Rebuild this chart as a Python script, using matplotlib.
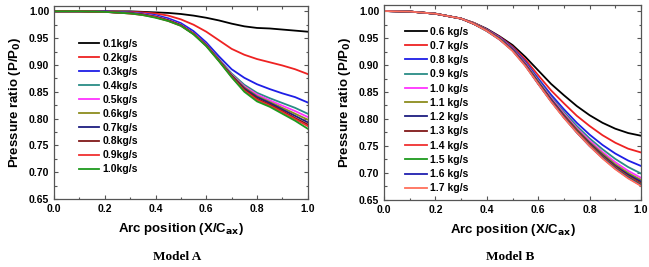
import numpy as np
import matplotlib
matplotlib.use("Agg")
import matplotlib.pyplot as plt
from matplotlib.ticker import MultipleLocator

# arc positions where values were read
x_pos = [0.0, 0.1, 0.2, 0.3, 0.35, 0.4, 0.45, 0.5, 0.55, 0.6, 0.65, 0.7, 0.75, 0.8, 0.85, 0.9, 0.95, 1.0]

### Model A
labels_a = ["0.1kg/s", "0.2kg/s", "0.3kg/s", "0.4kg/s", "0.5kg/s",
            "0.6kg/s", "0.7kg/s", "0.8kg/s", "0.9kg/s", "1.0kg/s"]
colors_a = ["#000000", "#ee2222", "#1e1ee6", "#2a8c86", "#ff33ff",
            "#8c8c1e", "#1e1e80", "#801818", "#f03030", "#1e9a1e"]
p_a = [
    [1.0, 1.0, 1.0, 1.0, 0.999, 0.998, 0.997, 0.995, 0.992, 0.988, 0.983, 0.977, 0.972, 0.969, 0.968, 0.966, 0.964, 0.962],
    [1.0, 1.0, 1.0, 0.999, 0.998, 0.996, 0.992, 0.985, 0.975, 0.962, 0.946, 0.930, 0.919, 0.911, 0.905, 0.899, 0.892, 0.883],
    [1.0, 1.0, 1.0, 0.998, 0.996, 0.993, 0.987, 0.978, 0.963, 0.942, 0.916, 0.892, 0.876, 0.864, 0.855, 0.847, 0.840, 0.830],
    [1.0, 1.0, 0.999, 0.997, 0.995, 0.991, 0.984, 0.975, 0.959, 0.938, 0.911, 0.884, 0.863, 0.848, 0.838, 0.829, 0.820, 0.809],
    [1.0, 1.0, 0.999, 0.997, 0.995, 0.991, 0.984, 0.975, 0.959, 0.938, 0.910, 0.882, 0.860, 0.845, 0.834, 0.824, 0.814, 0.803],
    [1.0, 1.0, 0.999, 0.997, 0.994, 0.990, 0.983, 0.974, 0.958, 0.937, 0.909, 0.881, 0.858, 0.842, 0.831, 0.820, 0.809, 0.798],
    [1.0, 1.0, 0.999, 0.997, 0.994, 0.990, 0.983, 0.974, 0.958, 0.937, 0.909, 0.880, 0.856, 0.840, 0.829, 0.817, 0.805, 0.793],
    [1.0, 1.0, 0.999, 0.996, 0.994, 0.989, 0.983, 0.974, 0.958, 0.936, 0.908, 0.879, 0.854, 0.837, 0.826, 0.814, 0.801, 0.789],
    [1.0, 1.0, 0.999, 0.996, 0.993, 0.989, 0.982, 0.973, 0.958, 0.936, 0.908, 0.878, 0.852, 0.835, 0.824, 0.812, 0.799, 0.786],
    [1.0, 1.0, 0.999, 0.996, 0.993, 0.988, 0.982, 0.973, 0.957, 0.935, 0.907, 0.877, 0.850, 0.832, 0.822, 0.809, 0.796, 0.781],
]

### Model B
labels_b = ["0.6 kg/s", "0.7 kg/s", "0.8 kg/s", "0.9 kg/s", "1.0 kg/s", "1.1 kg/s",
            "1.2 kg/s", "1.3 kg/s", "1.4 kg/s", "1.5 kg/s", "1.6 kg/s", "1.7 kg/s"]
colors_b = ["#000000", "#ee2222", "#1e1ee6", "#2a8c86", "#ff33ff", "#8c8c1e",
            "#1e1e80", "#801818", "#f03030", "#1e9a1e", "#2020b0", "#ff6f5a"]
p_b = [
    [1.0, 0.999, 0.995, 0.986, 0.978, 0.967, 0.953, 0.937, 0.915, 0.890, 0.865, 0.844, 0.824, 0.807, 0.793, 0.782, 0.774, 0.769],
    [1.0, 0.999, 0.995, 0.986, 0.978, 0.966, 0.952, 0.934, 0.910, 0.881, 0.853, 0.829, 0.806, 0.787, 0.770, 0.756, 0.745, 0.738],
    [1.0, 0.999, 0.995, 0.986, 0.977, 0.966, 0.951, 0.932, 0.906, 0.875, 0.845, 0.818, 0.793, 0.771, 0.752, 0.736, 0.723, 0.713],
    [1.0, 0.999, 0.995, 0.986, 0.977, 0.965, 0.950, 0.931, 0.904, 0.872, 0.841, 0.813, 0.787, 0.764, 0.744, 0.726, 0.711, 0.699],
    [1.0, 0.999, 0.995, 0.986, 0.977, 0.965, 0.950, 0.930, 0.903, 0.870, 0.839, 0.810, 0.783, 0.760, 0.739, 0.720, 0.704, 0.691],
    [1.0, 0.999, 0.995, 0.986, 0.977, 0.965, 0.949, 0.929, 0.902, 0.869, 0.837, 0.808, 0.781, 0.757, 0.736, 0.716, 0.700, 0.687],
    [1.0, 0.999, 0.995, 0.986, 0.976, 0.964, 0.949, 0.929, 0.901, 0.868, 0.836, 0.806, 0.779, 0.755, 0.733, 0.713, 0.697, 0.684],
    [1.0, 0.999, 0.995, 0.986, 0.976, 0.964, 0.948, 0.928, 0.900, 0.867, 0.835, 0.805, 0.778, 0.753, 0.731, 0.711, 0.694, 0.681],
    [1.0, 0.999, 0.995, 0.986, 0.976, 0.964, 0.948, 0.928, 0.900, 0.866, 0.834, 0.804, 0.777, 0.752, 0.730, 0.710, 0.693, 0.679],
    [1.0, 0.999, 0.995, 0.986, 0.976, 0.963, 0.948, 0.927, 0.899, 0.866, 0.833, 0.803, 0.776, 0.751, 0.729, 0.709, 0.692, 0.678],
    [1.0, 0.999, 0.995, 0.986, 0.976, 0.963, 0.947, 0.927, 0.899, 0.865, 0.833, 0.803, 0.775, 0.750, 0.728, 0.708, 0.691, 0.677],
    [1.0, 0.999, 0.995, 0.986, 0.976, 0.963, 0.947, 0.926, 0.898, 0.865, 0.832, 0.802, 0.775, 0.750, 0.727, 0.707, 0.690, 0.676],
]

plt.rcParams['font.family'] = ['Liberation Sans', 'DejaVu Sans']
plt.rcParams['font.weight'] = 'bold'
plt.rcParams['mathtext.default'] = 'bf'

fig = plt.figure(figsize=(6.49, 2.67), dpi=100)
ax_a = fig.add_axes([0.0832, 0.2547, 0.391, 0.723])
ax_b = fig.add_axes([0.5917, 0.251, 0.396, 0.730])


def style_axes(ax, ytop):
    ax.set_xlim(0, 1.0)
    ax.set_ylim(0.65, ytop)
    ax.xaxis.set_major_locator(MultipleLocator(0.2))
    ax.xaxis.set_minor_locator(MultipleLocator(0.1))
    ax.yaxis.set_major_locator(MultipleLocator(0.05))
    ax.yaxis.set_minor_locator(MultipleLocator(0.025))
    ax.xaxis.set_major_formatter(matplotlib.ticker.FormatStrFormatter('%.1f'))
    ax.yaxis.set_major_formatter(matplotlib.ticker.FormatStrFormatter('%.2f'))
    ax.tick_params(which='both', direction='in', top=True, right=True,
                   labelsize=7.5, width=0.8, color='#555555')
    ax.tick_params(which='major', length=3)
    ax.tick_params(which='minor', length=1.8)
    for sp in ax.spines.values():
        sp.set_color('#555555')
        sp.set_linewidth(0.9)
    ax.set_xlabel('Arc position (X/C$_{ax}$)', fontsize=9.5, fontweight='bold', labelpad=5)
    ax.set_ylabel('Pressure ratio (P/P$_0$)', fontsize=9.5, fontweight='bold', labelpad=4)


for vals, lab, col in zip(p_a, labels_a, colors_a):
    ax_a.plot(x_pos, vals, color=col, lw=1.3, label=lab)
style_axes(ax_a, 1.01)
ax_a.legend(loc='upper left', bbox_to_anchor=(0.10, 0.83), frameon=False,
            fontsize=7.5, handlelength=1.9, handletextpad=0.3, labelspacing=0.38,
            borderpad=0, borderaxespad=0)

for vals, lab, col in zip(p_b, labels_b, colors_b):
    ax_b.plot(x_pos, vals, color=col, lw=1.3, label=lab)
style_axes(ax_b, 1.011)
ax_b.legend(loc='upper left', bbox_to_anchor=(0.082, 0.89), frameon=False,
            fontsize=7.5, handlelength=2.1, handletextpad=0.3, labelspacing=0.41,
            borderpad=0, borderaxespad=0)

fig.text(0.273, 0.037, 'Model A', ha='center', va='center', fontsize=9.5,
         family='Liberation Serif', fontweight='bold')
fig.text(0.786, 0.037, 'Model B', ha='center', va='center', fontsize=9.5,
         family='Liberation Serif', fontweight='bold')

fig.savefig('out.png', dpi=100)
